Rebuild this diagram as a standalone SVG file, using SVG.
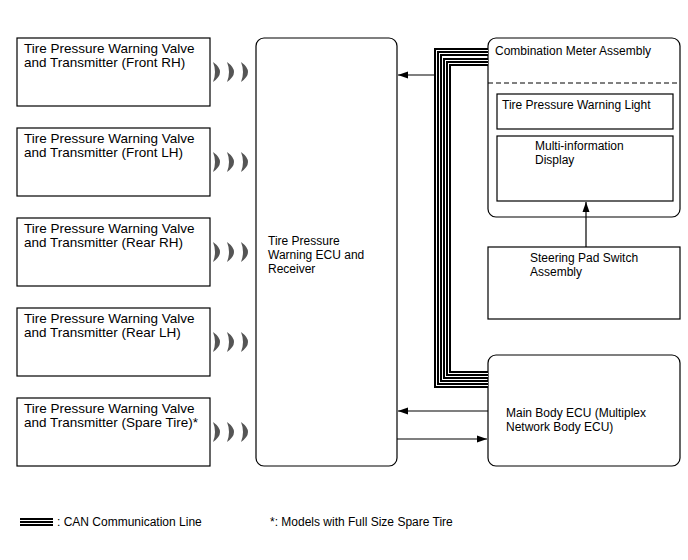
<svg xmlns="http://www.w3.org/2000/svg" width="688" height="560" viewBox="0 0 688 560">
<defs>
<style>
.box{fill:#fff;stroke:#000;stroke-width:1.2}
text{font-family:"Liberation Sans",Arial,sans-serif;font-size:12px;fill:#000}
text.lt{font-size:13.5px}
.w{fill:#555}
.ln{stroke:#000;stroke-width:1.2;fill:none}
.c1{stroke:#000;stroke-width:8;fill:none}
.c2{stroke:#fff;stroke-width:4;fill:none}
.c3{stroke:#000;stroke-width:2;fill:none}
</style>
<marker id="ah" viewBox="0 0 10 10" refX="10" refY="5" markerWidth="10" markerHeight="10" markerUnits="userSpaceOnUse" orient="auto">
<path d="M0,1.5 L10,5 L0,8.5 Z" fill="#000"/>
</marker>
<path id="cr" d="M0,-10 Q14,0 0,10 Q4,0 0,-10 Z"/>
</defs>
<rect width="688" height="560" fill="#fff"/>

<g id="tx-frh">
<rect class="box" x="17" y="38" width="193" height="68"/>
<text class="lt" x="24" y="53">Tire Pressure Warning Valve</text>
<text class="lt" x="24" y="67">and Transmitter (Front RH)</text>
<use href="#cr" class="w" x="213" y="72"/><use href="#cr" class="w" x="227" y="72"/><use href="#cr" class="w" x="241" y="72"/>
</g>
<g id="tx-flh">
<rect class="box" x="17" y="128" width="193" height="68"/>
<text class="lt" x="24" y="143">Tire Pressure Warning Valve</text>
<text class="lt" x="24" y="157">and Transmitter (Front LH)</text>
<use href="#cr" class="w" x="213" y="162"/><use href="#cr" class="w" x="227" y="162"/><use href="#cr" class="w" x="241" y="162"/>
</g>
<g id="tx-rrh">
<rect class="box" x="17" y="218" width="193" height="68"/>
<text class="lt" x="24" y="233">Tire Pressure Warning Valve</text>
<text class="lt" x="24" y="247">and Transmitter (Rear RH)</text>
<use href="#cr" class="w" x="213" y="252"/><use href="#cr" class="w" x="227" y="252"/><use href="#cr" class="w" x="241" y="252"/>
</g>
<g id="tx-rlh">
<rect class="box" x="17" y="308" width="193" height="68"/>
<text class="lt" x="24" y="323">Tire Pressure Warning Valve</text>
<text class="lt" x="24" y="337">and Transmitter (Rear LH)</text>
<use href="#cr" class="w" x="213" y="342"/><use href="#cr" class="w" x="227" y="342"/><use href="#cr" class="w" x="241" y="342"/>
</g>
<g id="tx-spare">
<rect class="box" x="17" y="398" width="193" height="68"/>
<text class="lt" x="24" y="413">Tire Pressure Warning Valve</text>
<text class="lt" x="24" y="427">and Transmitter (Spare Tire)*</text>
<use href="#cr" class="w" x="213" y="432"/><use href="#cr" class="w" x="227" y="432"/><use href="#cr" class="w" x="241" y="432"/>
</g>

<g id="ecu">
<rect class="box" x="256" y="38" width="141" height="428" rx="8"/>
<text x="268" y="245">Tire Pressure</text>
<text x="268" y="259">Warning ECU and</text>
<text x="268" y="273">Receiver</text>
</g>

<g id="combo-meter">
<rect class="box" x="488" y="38" width="192" height="179" rx="8"/>
<line x1="488" y1="83" x2="680" y2="83" stroke="#000" stroke-width="1" stroke-dasharray="5,3"/>
<text x="495" y="55">Combination Meter Assembly</text>
</g>
<g id="warning-light">
<rect class="box" x="497" y="94" width="176" height="35"/>
<text x="502" y="109">Tire Pressure Warning Light</text>
</g>
<g id="mid">
<rect class="box" x="497" y="136" width="176" height="65"/>
<text x="535" y="150">Multi-information</text>
<text x="535" y="164">Display</text>
</g>

<g id="steering">
<rect class="box" x="488" y="247" width="192" height="72"/>
<text x="530" y="262">Steering Pad Switch</text>
<text x="530" y="276">Assembly</text>
</g>

<g id="main-body">
<rect class="box" x="488" y="355" width="192" height="111" rx="8"/>
<text x="506" y="417">Main Body ECU (Multiplex</text>
<text x="506" y="431">Network Body ECU)</text>
</g>

<g id="connectors">
<path class="c1" d="M488,52 H438 V384 H488"/>
<path class="c2" d="M488,52 H438 V384 H488"/>
<path class="c3" d="M488,52 H438 V384 H488"/>
<path class="c1" d="M488,62 H447 V375 H488"/>
<path class="c2" d="M488,62 H447 V375 H488"/>
<path class="c3" d="M488,62 H447 V375 H488"/>
<line class="ln" x1="434" y1="75" x2="398" y2="75" marker-end="url(#ah)"/>
<line class="ln" x1="488" y1="411" x2="398" y2="411" marker-end="url(#ah)"/>
<line class="ln" x1="397" y1="439" x2="487" y2="439" marker-end="url(#ah)"/>
<line class="ln" x1="586" y1="247" x2="586" y2="202" marker-end="url(#ah)"/>
</g>

<g id="legend">
<line class="c1" x1="20" y1="522" x2="53" y2="522"/>
<line class="c2" x1="20" y1="522" x2="53" y2="522"/>
<line class="c3" x1="20" y1="522" x2="53" y2="522"/>
<text x="57" y="526">: CAN Communication Line</text>
<text x="270" y="526">*: Models with Full Size Spare Tire</text>
</g>
</svg>
